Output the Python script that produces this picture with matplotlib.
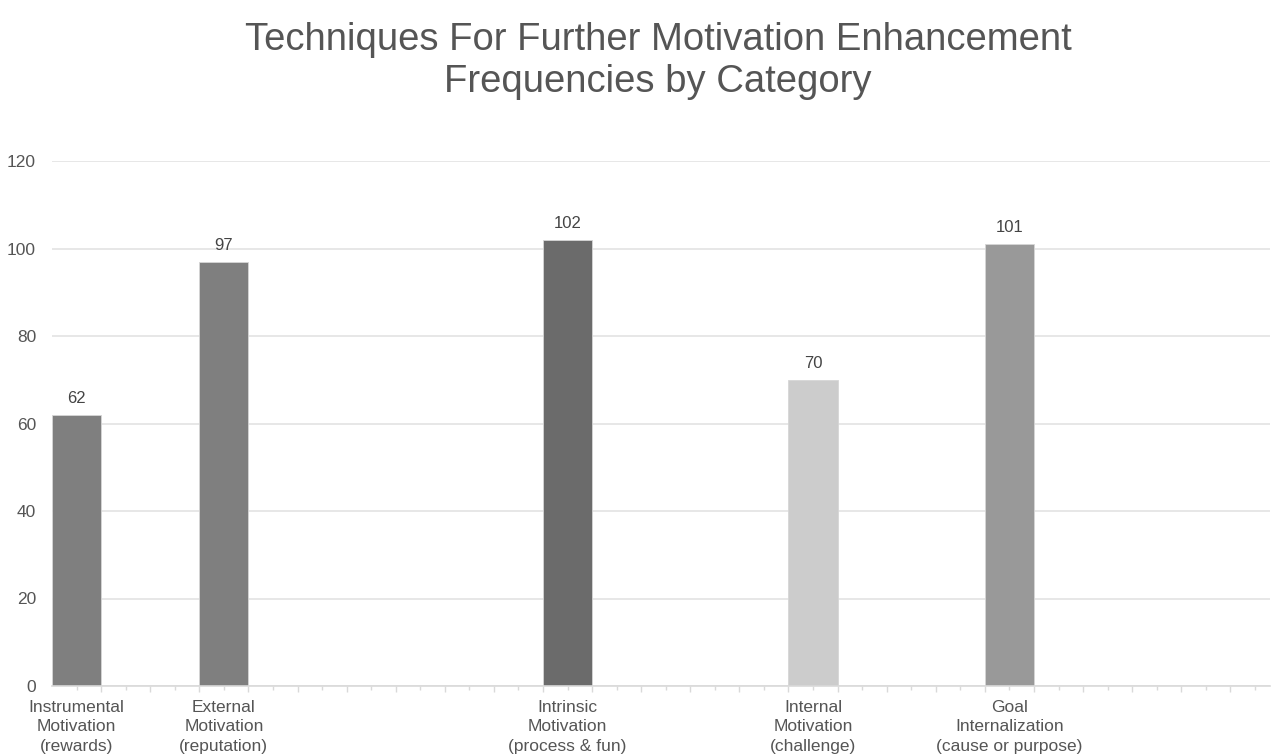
import matplotlib.pyplot as plt
import numpy as np

plt.rcParams['font.family'] = ['Liberation Sans', 'DejaVu Sans']

# categories and counts
categories = [
    'Instrumental\nMotivation\n(rewards)',
    'External\nMotivation\n(reputation)',
    'Intrinsic\nMotivation\n(process & fun)',
    'Internal\nMotivation\n(challenge)',
    'Goal\nInternalization\n(cause or purpose)',
]
counts = [62, 97, 102, 70, 101]
# slot index of each category on the (mostly empty) category axis
slots = [0, 6, 20, 30, 38]
bar_colors = ['#7f7f7f', '#7f7f7f', '#6b6b6b', '#cccccc', '#999999']
y_ticks = [0, 20, 40, 60, 80, 100, 120]

fig = plt.figure(figsize=(12.75, 7.56), dpi=100)
ax = fig.add_axes([0.0408, 0.0926, 0.955, 0.6944])

bars = ax.bar(slots, counts, width=2.0, color=bar_colors,
              edgecolor='#d6d6d6', linewidth=0.6, zorder=3)
for b, v in zip(bars, counts):
    ax.annotate(str(v), (b.get_x() + b.get_width() / 2, v),
                xytext=(0, 6.5), textcoords='offset points',
                ha='center', va='bottom', fontsize=12, color='#444444')

ax.set_xlim(-1, 48.6)
ax.set_ylim(0, 120)
ax.set_yticks(y_ticks)
ax.set_yticklabels([str(t) for t in y_ticks], fontsize=12.5, color='#555555')
ax.grid(axis='y', color='#e3e3e3', linewidth=1.2, zorder=0)

# long ticks between slots, short ticks on slots
ax.set_xticks(np.arange(1, 49, 2))
ax.set_xticklabels([])
ax.set_xticks(np.arange(0, 49, 2), minor=True)
ax.set_xticklabels(['' for _ in np.arange(0, 49, 2)], minor=True)
ax.tick_params(axis='x', which='major', length=4, width=1, color='#d9d9d9')
ax.tick_params(axis='x', which='minor', length=3, width=1, color='#d9d9d9')
ax.tick_params(axis='y', length=0, pad=11.5)

for s, lab in zip(slots, categories):
    ax.text(s, -3.1, lab, ha='center', va='top', fontsize=12.5,
            color='#555555', linespacing=1.4)

for side in ['top', 'right', 'left']:
    ax.spines[side].set_visible(False)
ax.spines['bottom'].set_color('#d9d9d9')
ax.spines['bottom'].set_linewidth(1.2)
ax.spines['bottom'].set_zorder(4)

fig.text(0.516, 0.971, 'Techniques For Further Motivation Enhancement\nFrequencies by Category',
         ha='center', va='top', fontsize=27.5, color='#555555', linespacing=1.2)

fig.savefig('out.png', dpi=100)
